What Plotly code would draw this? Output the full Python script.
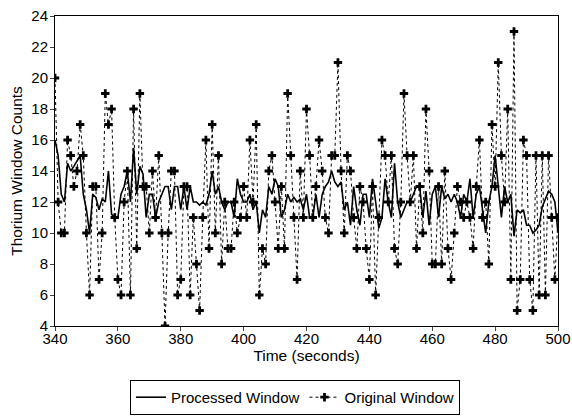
import plotly.graph_objects as go

time_s = list(range(340, 501))

original_window = [
    20, 12, 10, 10, 16, 15, 13, 14, 17, 15,
    10, 6, 13, 13, 7, 10, 19, 17, 18, 11,
    7, 6, 12, 14, 6, 18, 9, 19, 13, 13,
    10, 14, 11, 15, 10, 4, 10, 14, 14, 6,
    7, 13, 13, 6, 11, 8, 5, 11, 16, 9,
    17, 10, 15, 8, 12, 9, 9, 12, 10, 11,
    13, 11, 16, 12, 17, 6, 9, 8, 14, 15,
    12, 9, 13, 9, 19, 15, 11, 7, 14, 11,
    18, 15, 11, 13, 16, 14, 11, 10, 15, 15,
    21, 14, 10, 15, 14, 11, 9, 13, 12, 9,
    7, 13, 6, 11, 16, 15, 12, 15, 9, 8,
    12, 19, 15, 12, 15, 9, 13, 10, 18, 14,
    8, 8, 13, 8, 14, 9, 7, 10, 13, 12,
    11, 12, 11, 9, 13, 16, 11, 12, 8, 17,
    13, 21, 15, 12, 18, 7, 23, 5, 7, 16,
    15, 7, 5, 15, 6, 15, 6, 15, 11, 7, 11,
]

processed_window = [
    16, 15, 12.5, 12, 14.5, 14, 14.3, 14.7, 15, 12.5,
    11.5, 10, 12.5, 12.3, 11.5, 12.2, 12, 14, 11.2, 11,
    11, 12.5, 13, 14, 12, 15.5, 12.5, 14.3, 13.8, 11,
    12.5, 12.5, 11, 12, 12.5, 13, 13, 11.5, 13, 13,
    11.5, 13, 11.5, 13, 12, 12, 11.8, 12, 11.8, 12.5,
    14, 12.5, 13, 12, 11.5, 12, 12, 11, 13.5, 12.5,
    12, 12, 12.5, 11.5, 12, 10, 11.5, 11, 13, 12.5,
    13.5, 13, 11, 11.5, 12.5, 12, 12.3, 12, 12.2, 11.5,
    12.5, 11, 11, 12.5, 11, 12.5, 13, 13.3, 14, 13.3,
    13, 13.3, 11.5, 12, 10.5, 13, 11.5, 10.5, 12.5, 12.5,
    11, 13.5, 12, 10.3, 11, 13.5, 12, 11, 14.5, 12,
    11, 11.5, 12, 12, 12.5, 13, 13, 11, 12.7, 10.5,
    12.5, 13, 11, 13, 12.2, 12.5, 12, 12.5, 12, 11,
    12.5, 12, 13.5, 11, 12.5, 13, 11.5, 10, 12, 13,
    15, 13, 11, 13, 12, 12.5, 9.8, 11.5, 11.3, 11.5,
    10.5, 10.5, 10, 10.2, 10.5, 11.7, 12.2, 12.7, 12.5, 12, 10,
]

x_ticks = [340, 360, 380, 400, 420, 440, 460, 480, 500]
y_ticks = [4, 6, 8, 10, 12, 14, 16, 18, 20, 22, 24]

font_family = "Liberation Sans, Arial, sans-serif"

fig = go.Figure()
fig.add_trace(go.Scatter(
    x=time_s, y=processed_window, mode="lines", name="Processed Window",
    line=dict(color="black", width=1.6),
))
fig.add_trace(go.Scatter(
    x=time_s, y=original_window, mode="lines+markers", name="Original Window",
    line=dict(color="black", width=1, dash="dot"),
    marker=dict(symbol="cross", size=7, color="black", line=dict(width=0)),
))

fig.update_layout(
    width=572, height=419,
    margin=dict(l=55, r=14, t=16, b=93, autoexpand=False),
    paper_bgcolor="white", plot_bgcolor="white",
    font=dict(family=font_family, size=15, color="black"),
    showlegend=True,
    legend=dict(
        orientation="h", x=0.477, xanchor="center", y=-0.174, yanchor="top",
        bordercolor="black", borderwidth=1, font=dict(size=15),
        itemwidth=30, tracegroupgap=0,
    ),
)
fig.update_xaxes(
    range=[340, 500], tickvals=x_ticks, ticks="outside", ticklen=4,
    showline=True, mirror=True, linecolor="black", linewidth=1,
    showgrid=False, zeroline=False, automargin=False,
    ticklabelstandoff=-5, ticklabeloverflow="allow",
    title=dict(text="Time (seconds)", font=dict(size=15.5), standoff=0),
    tickfont=dict(size=15),
)
fig.update_yaxes(
    range=[4, 24], tickvals=y_ticks, ticks="outside", ticklen=4,
    showline=True, mirror=True, linecolor="black", linewidth=1,
    showgrid=False, zeroline=False, automargin=False,
    ticklabelstandoff=-1, ticklabeloverflow="allow",
    title=dict(text="Thorium Window Counts", font=dict(size=15.5), standoff=4),
    tickfont=dict(size=15),
)

fig.write_html(
    "out.html",
    config={"displayModeBar": False},
    post_script="document.body.style.margin='0px';document.body.style.overflow='hidden';",
)
